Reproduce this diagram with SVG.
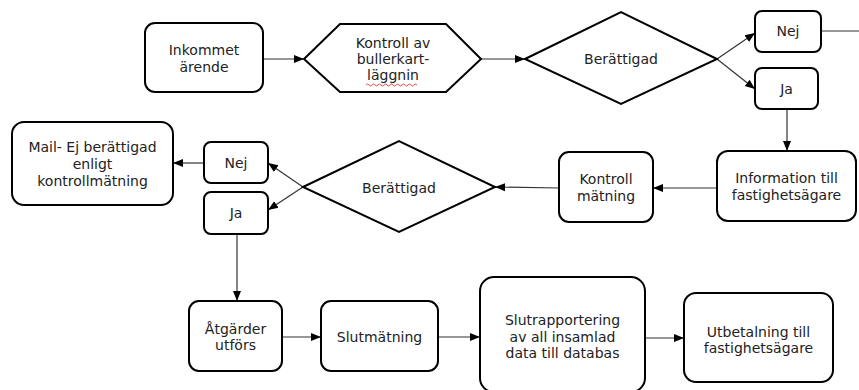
<svg xmlns="http://www.w3.org/2000/svg" width="859" height="390" viewBox="0 0 859 390">
<defs>
<marker id="arr" markerUnits="userSpaceOnUse" markerWidth="10" markerHeight="10" viewBox="0 0 10 10" refX="10" refY="5" orient="auto">
<path d="M0,1 L10,5 L0,9 Z" fill="#000"/>
</marker>
</defs>
<style>
.box{fill:#fff;stroke:#000;stroke-width:2}
.t{font-family:"DejaVu Sans","Verdana",sans-serif;font-size:14px;fill:#222;text-anchor:middle}
.c{fill:none;stroke:#333;stroke-width:1.2}
.ca{fill:none;stroke:#333;stroke-width:1.2;marker-end:url(#arr)}
</style>
<rect width="859" height="390" fill="#fff"/>
<g id="connectors">
<line class="ca" x1="263" y1="59" x2="304" y2="59"/>
<line class="ca" x1="481" y1="59" x2="525" y2="59"/>
<line class="ca" x1="717" y1="59" x2="755" y2="33"/>
<line class="ca" x1="717" y1="59" x2="755" y2="89"/>
<line class="c" x1="821" y1="31" x2="859" y2="31"/>
<line class="ca" x1="787" y1="109" x2="787" y2="151"/>
<line class="ca" x1="717" y1="188" x2="653" y2="188"/>
<line class="ca" x1="559" y1="188" x2="495" y2="187"/>
<line class="ca" x1="303" y1="187" x2="268" y2="163"/>
<line class="ca" x1="303" y1="187" x2="268" y2="210"/>
<line class="ca" x1="204" y1="163" x2="173" y2="163"/>
<line class="ca" x1="237" y1="234" x2="237" y2="301"/>
<line class="ca" x1="282" y1="337" x2="321" y2="337"/>
<line class="ca" x1="438" y1="337" x2="480" y2="337"/>
<line class="ca" x1="645" y1="338" x2="684" y2="338"/>
</g>
<g id="inkommet">
<rect class="box" x="145" y="23" width="118" height="69" rx="10"/>
<text class="t" x="204" y="55">Inkommet</text>
<text class="t" x="204" y="72">ärende</text>
</g>
<g id="kontroll-av">
<polygon class="box" points="304,59 340,24 446,24 481,59 446,92 340,92"/>
<text class="t" x="393" y="48">Kontroll av</text>
<text class="t" x="393" y="64">bullerkart-</text>
<text class="t" x="393" y="80">läggnin</text>
<path d="M366,85 q1.5,-2 3,0 t3,0 t3,0 t3,0 t3,0 t3,0 t3,0 t3,0 t3,0 t3,0 t3,0 t3,0 t3,0 t3,0 t3,0 t3,0 t3,0" fill="none" stroke="#e02020" stroke-width="0.8"/>
</g>
<g id="berattigad-1">
<polygon class="box" points="525,59 621,12 717,59 621,104"/>
<text class="t" x="621" y="64">Berättigad</text>
</g>
<g id="nej-1">
<rect class="box" x="755" y="11" width="66" height="41" rx="7"/>
<text class="t" x="788" y="36">Nej</text>
</g>
<g id="ja-1">
<rect class="box" x="755" y="68" width="63" height="41" rx="7"/>
<text class="t" x="786.5" y="94">Ja</text>
</g>
<g id="information">
<rect class="box" x="717" y="151" width="139" height="70" rx="11"/>
<text class="t" x="786.5" y="183">Information till</text>
<text class="t" x="786.5" y="200">fastighetsägare</text>
</g>
<g id="kontroll-matning">
<rect class="box" x="559" y="152" width="94" height="70" rx="10"/>
<text class="t" x="606" y="184">Kontroll</text>
<text class="t" x="606" y="201">mätning</text>
</g>
<g id="berattigad-2">
<polygon class="box" points="303,187 399,141 495,187 399,232"/>
<text class="t" x="399" y="193">Berättigad</text>
</g>
<g id="nej-2">
<rect class="box" x="204" y="142" width="64" height="41" rx="7"/>
<text class="t" x="236" y="168">Nej</text>
</g>
<g id="ja-2">
<rect class="box" x="204" y="192" width="64" height="42" rx="7"/>
<text class="t" x="236" y="218">Ja</text>
</g>
<g id="mail">
<rect class="box" x="12" y="122" width="161" height="83" rx="12"/>
<text class="t" x="92.5" y="152">Mail- Ej berättigad</text>
<text class="t" x="92.5" y="169">enligt</text>
<text class="t" x="92.5" y="186">kontrollmätning</text>
</g>
<g id="atgarder">
<rect class="box" x="189" y="301" width="93" height="70" rx="10"/>
<text class="t" x="235.5" y="334">Åtgärder</text>
<text class="t" x="235.5" y="350">utförs</text>
</g>
<g id="slutmatning">
<rect class="box" x="321" y="301" width="117" height="70" rx="10"/>
<text class="t" x="379.5" y="342">Slutmätning</text>
</g>
<g id="slutrapportering">
<rect class="box" x="480" y="277" width="165" height="115" rx="14"/>
<text class="t" x="562.5" y="325">Slutrapportering</text>
<text class="t" x="562.5" y="342">av all insamlad</text>
<text class="t" x="562.5" y="358">data till databas</text>
</g>
<g id="utbetalning">
<rect class="box" x="684" y="293" width="149" height="89" rx="12"/>
<text class="t" x="758.5" y="337">Utbetalning till</text>
<text class="t" x="758.5" y="353">fastighetsägare</text>
</g>
</svg>
